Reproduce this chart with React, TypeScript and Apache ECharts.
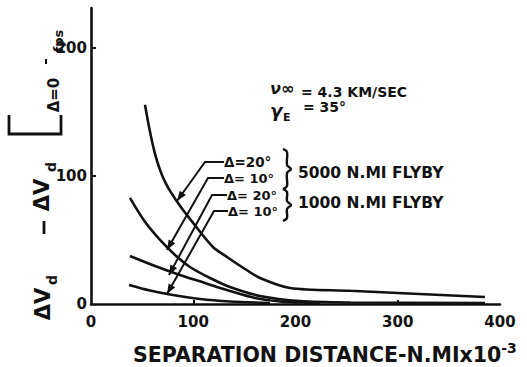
import React, { useEffect, useRef } from "react";
import * as echarts from "echarts";

// Axis ticks
const xTicks = [0, 100, 200, 300, 400];
const yTicks = [0, 100, 200];

// 5000 N.MI flyby, delta = 20 deg
const sep5000d20 = [52.8, 57.7, 62.6, 67.5, 72.4, 77.3, 87.0, 99.8, 119.3, 133.0, 150.6, 165.3, 194.6, 253.3, 385.3];
const dv5000d20 = [155.5, 134.4, 117.2, 104.7, 95.3, 88.3, 76.6, 63.3, 44.5, 36.7, 27.3, 20.3, 12.5, 10.3, 5.5];

// 5000 N.MI flyby, delta = 10 deg
const sep5000d10 = [38.1, 52.8, 67.5, 82.2, 96.8, 116.4, 135.9, 165.3, 204.4, 253.3, 385.3];
const dv5000d10 = [82.8, 64.1, 50.0, 38.3, 28.9, 20.3, 13.3, 6.3, 2.3, 1.2, 0.8];

// 1000 N.MI flyby, delta = 20 deg
const sep1000d20 = [38.1, 62.6, 87.0, 111.5, 135.9, 160.4, 184.8, 224.0];
const dv1000d20 = [37.5, 29.7, 22.7, 16.4, 10.2, 4.7, 2.0, 0.8];

// 1000 N.MI flyby, delta = 10 deg
const sep1000d10 = [37.2, 57.7, 77.3, 106.6, 135.9, 175.0];
const dv1000d10 = [14.8, 10.5, 7.4, 3.9, 2.0, 0.8];

const FONT = '"DejaVu Sans", sans-serif';
const INK = "#111";

const toPairs = (xs: number[], ys: number[]) => xs.map((x, i) => [x, ys[i]]);

// filled arrowhead with its point at (tx, ty), aimed along the leader from (fx, fy)
function arrowHead(tx: number, ty: number, fx: number, fy: number) {
  const dx = tx - fx;
  const dy = ty - fy;
  const len = Math.hypot(dx, dy);
  const ux = dx / len;
  const uy = dy / len;
  const L = 10;
  const W = 3.8;
  const bx = tx - ux * L;
  const by = ty - uy * L;
  return {
    type: "polygon",
    shape: {
      points: [
        [tx, ty],
        [bx - uy * W, by + ux * W],
        [bx + uy * W, by - ux * W],
      ],
    },
    style: { fill: INK },
    z: 20,
  };
}

function leader(textX: number, textY: number, elbowX: number, tipX: number, tipY: number) {
  return [
    {
      type: "polyline",
      shape: { points: [[textX, textY], [elbowX, textY], [tipX, tipY]] },
      style: { stroke: INK, lineWidth: 2, fill: "none" },
      z: 20,
    },
    arrowHead(tipX, tipY, elbowX, textY),
  ];
}

function brace(x0: number, y0: number, y1: number) {
  const ym = (y0 + y1) / 2;
  return {
    type: "polyline",
    shape: {
      points: [
        [x0, y0],
        [x0 + 4, y0 + 3],
        [x0 + 4, ym - 4],
        [x0 + 8, ym],
        [x0 + 4, ym + 4],
        [x0 + 4, y1 - 3],
        [x0, y1],
      ],
      smooth: 0.35,
    },
    style: { stroke: INK, lineWidth: 2.4, fill: "none" },
    z: 20,
  };
}

function label(text: string, x: number, y: number, size = 14, extra: any = {}) {
  return {
    type: "text",
    x,
    y,
    z: 20,
    style: {
      text,
      fill: INK,
      font: `bold ${size}px ${FONT}`,
      textAlign: "left",
      textVerticalAlign: "middle",
      ...extra,
    },
  };
}

function vLabel(text: string, x: number, y: number, size: number) {
  return {
    type: "text",
    x,
    y,
    rotation: Math.PI / 2,
    z: 20,
    style: {
      text,
      fill: INK,
      font: `bold ${size}px ${FONT}`,
      textAlign: "center",
      textVerticalAlign: "middle",
    },
  };
}

export default function App() {
  const ref = useRef<HTMLDivElement>(null);

  useEffect(() => {
    if (!ref.current) return;
    const chart = echarts.init(ref.current, null, { renderer: "svg" });

    const curve = (name: string, xs: number[], ys: number[]) => ({
      name,
      type: "line",
      data: toPairs(xs, ys),
      smooth: 0.3,
      showSymbol: false,
      symbol: "none",
      lineStyle: { color: INK, width: 2.6 },
      z: 5,
    });

    const graphic: any[] = [
      // vertical axis title
      vLabel("ΔV", 43, 304, 21),
      vLabel("d", 52, 280, 14),
      {
        type: "line",
        shape: { x1: 44, y1: 221, x2: 44, y2: 234 },
        style: { stroke: INK, lineWidth: 2.8 },
      },
      vLabel("ΔV", 42, 195, 21),
      vLabel("d", 51, 167, 14),
      {
        type: "polyline",
        shape: { points: [[9, 115], [9, 134], [61, 134], [61, 115]] },
        style: { stroke: INK, lineWidth: 2.8, fill: "none" },
      },
      vLabel("Δ=0", 54, 95, 15),
      {
        type: "line",
        shape: { x1: 46, y1: 59, x2: 46, y2: 64 },
        style: { stroke: INK, lineWidth: 2 },
      },
      vLabel("fps", 58, 41, 13),

      // flight conditions
      {
        type: "text",
        x: 270,
        y: 88,
        style: { text: "ν∞", fill: INK, font: `italic bold 16px ${FONT}`, textVerticalAlign: "middle" },
      },
      label("= 4.3 KM/SEC", 301, 92, 14),
      {
        type: "text",
        x: 270,
        y: 110,
        style: { text: "γ", fill: INK, font: `italic bold 18px ${FONT}`, textVerticalAlign: "middle" },
      },
      label("E", 283, 117, 11),
      label("= 35°", 303, 107, 14),

      // curve identifiers
      label("Δ=20°", 224, 162, 13.5),
      label("Δ= 10°", 224, 178, 13),
      label("Δ= 20°", 227, 195, 13),
      label("Δ= 10°", 228, 211, 13),
      ...leader(224, 162, 205, 177, 201),
      ...leader(224, 178, 208, 167, 250),
      ...leader(227, 195, 212, 169, 275),
      ...leader(228, 211, 214, 167, 294),
      brace(283, 149, 189),
      brace(283, 189, 221),
      label("5000 N.MI FLYBY", 298, 173, 15.5),
      label("1000 N.MI FLYBY", 298, 203, 15.5),

      // horizontal axis title
      {
        type: "text",
        x: 133,
        y: 353,
        style: {
          text: "{m|SEPARATION DISTANCE-N.MIx10}{s|-3}",
          textVerticalAlign: "middle",
          rich: {
            m: { font: `bold 20.5px ${FONT}`, fill: INK, lineHeight: 24, verticalAlign: "bottom" },
            s: { font: `bold 14px ${FONT}`, fill: INK, lineHeight: 24, verticalAlign: "top" },
          },
        },
      },
    ];

    chart.setOption({
      animation: false,
      backgroundColor: "#fff",
      grid: { left: 91, right: 27, top: 8, bottom: 63, containLabel: false },
      xAxis: {
        type: "value",
        min: 0,
        max: 400,
        interval: 100,
        splitLine: { show: false },
        axisLine: { show: true, onZero: false, lineStyle: { color: INK, width: 2.6 } },
        axisTick: {
          show: true,
          inside: true,
          length: 4,
          customValues: [100, 200, 300],
          lineStyle: { color: INK, width: 2 },
        },
        axisLabel: {
          customValues: xTicks,
          color: INK,
          fontFamily: FONT,
          fontWeight: "bold",
          fontSize: 15,
          margin: 10,
        },
      },
      yAxis: {
        type: "value",
        min: 0,
        max: 231,
        interval: 100,
        splitLine: { show: false },
        axisLine: { show: true, onZero: false, lineStyle: { color: INK, width: 2.6 } },
        axisTick: {
          show: true,
          inside: true,
          length: 5,
          customValues: [100, 200],
          lineStyle: { color: INK, width: 2 },
        },
        axisLabel: {
          customValues: yTicks,
          color: INK,
          fontFamily: FONT,
          fontWeight: "bold",
          fontSize: 15,
          margin: 4,
        },
      },
      series: [
        curve("5000 N.MI, Δ=20°", sep5000d20, dv5000d20),
        curve("5000 N.MI, Δ=10°", sep5000d10, dv5000d10),
        curve("1000 N.MI, Δ=20°", sep1000d20, dv1000d20),
        curve("1000 N.MI, Δ=10°", sep1000d10, dv1000d10),
      ],
      graphic,
    });

    return () => chart.dispose();
  }, []);

  return (
    <div
      ref={ref}
      style={{ position: "absolute", left: 0, top: 0, width: 527, height: 367, background: "#fff" }}
    />
  );
}
